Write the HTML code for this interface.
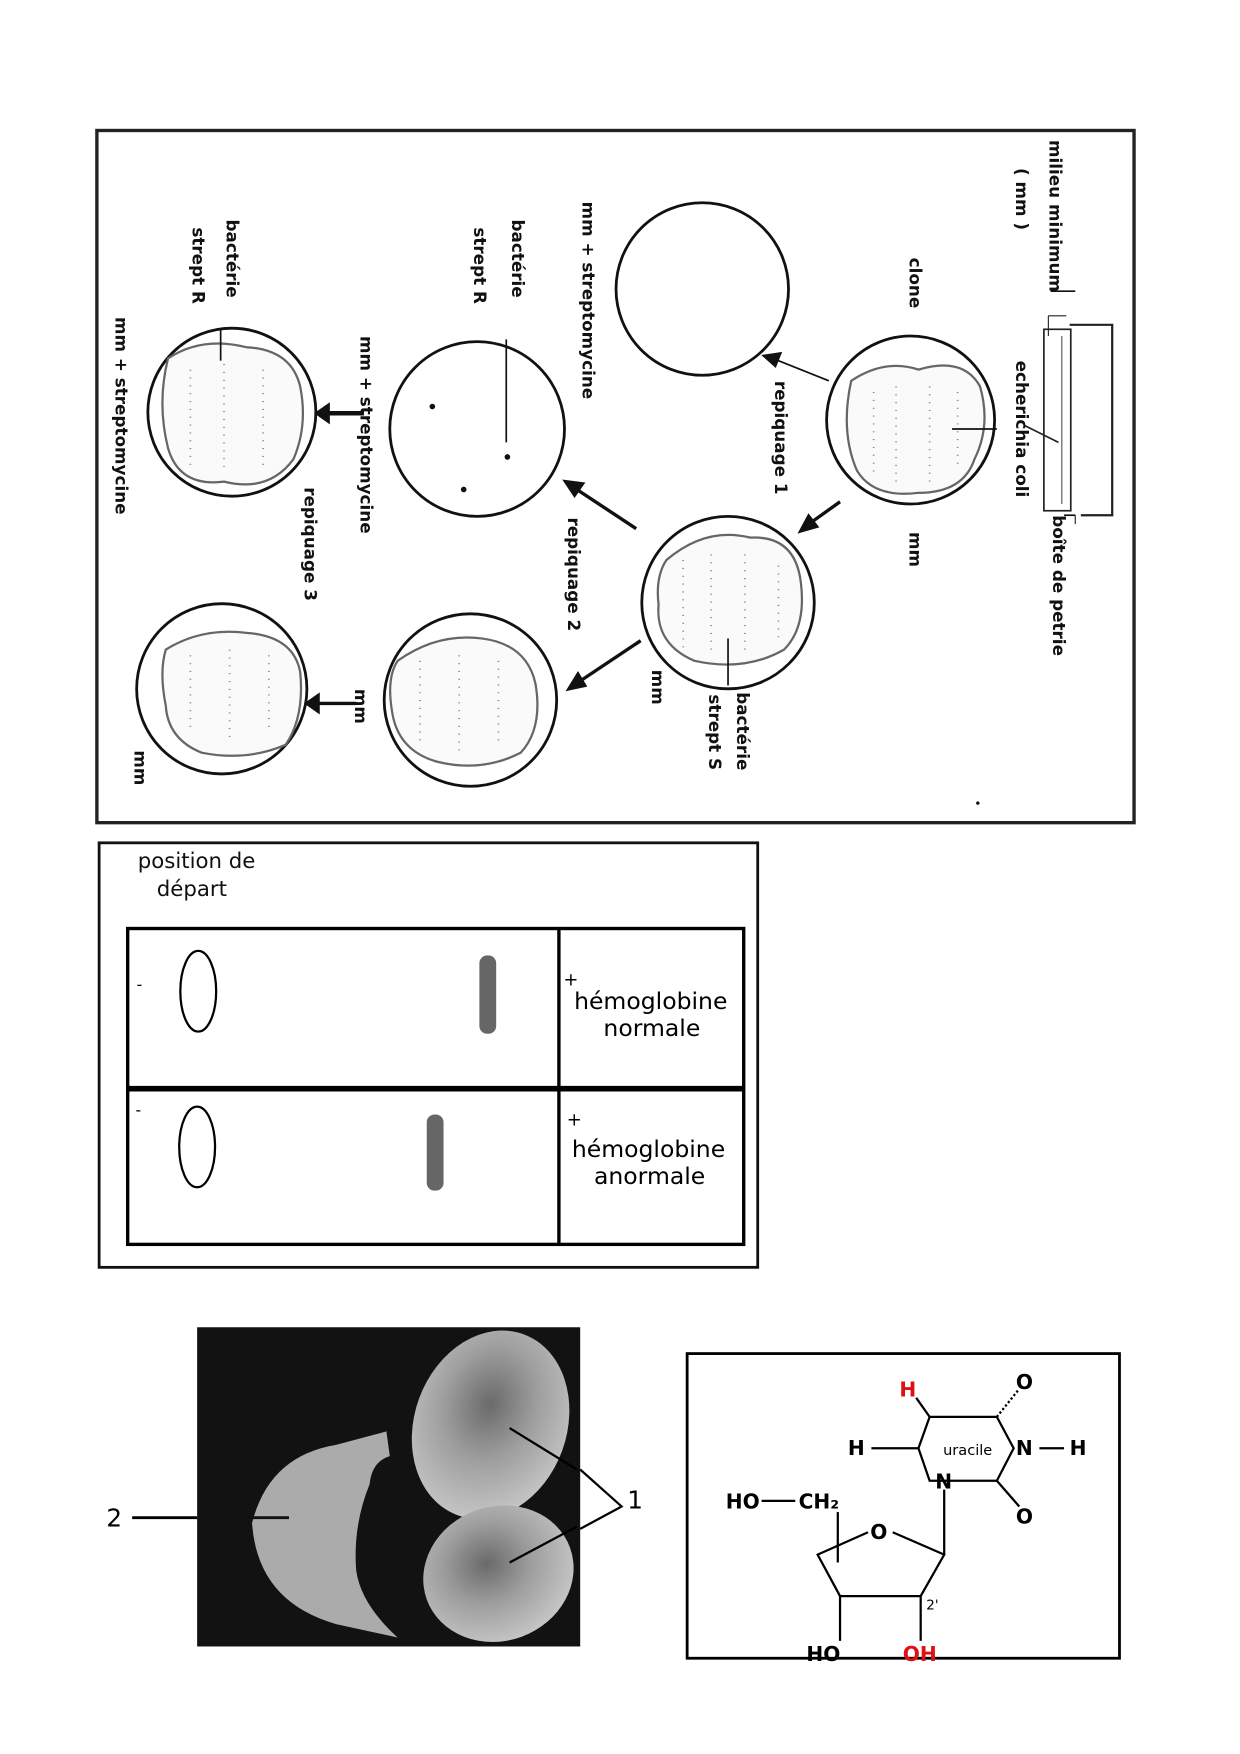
<!DOCTYPE html>
<html><head><meta charset="utf-8"><style>
html,body{margin:0;padding:0;background:#fff;}
svg{display:block;}
text{font-family:"DejaVu Sans","Liberation Sans",sans-serif;}
.b{font-weight:bold;font-size:15px;fill:#111;}
</style></head><body>
<svg width="1240" height="1754" viewBox="0 0 1107 1566" preserveAspectRatio="xMinYMin meet" xmlns="http://www.w3.org/2000/svg">
<defs>
<radialGradient id="cg" cx="0.45" cy="0.4" r="0.6"><stop offset="0" stop-color="#6a6a6a"/><stop offset="0.5" stop-color="#9e9e9e"/><stop offset="1" stop-color="#c4c4c4"/></radialGradient>
</defs>
<rect width="1107" height="1566" fill="#fff"/>
<!-- Frame 1 -->
<rect x="86.5" y="116.5" width="926" height="618" fill="none" stroke="#222" stroke-width="3"/>
<!-- petri dish -->
<polyline points="955,290 993,290 993,460 965,460" fill="none" stroke="#222" stroke-width="2"/>
<rect x="932" y="294" width="24" height="162" fill="none" stroke="#222" stroke-width="1.5"/>
<line x1="948" y1="300" x2="948" y2="450" stroke="#555" stroke-width="1"/>
<line x1="952" y1="282" x2="936" y2="282" stroke="#222"/><line x1="936" y1="282" x2="936" y2="300" stroke="#222"/>
<line x1="960" y1="460" x2="960" y2="468" stroke="#222"/>
<line x1="915" y1="380" x2="945" y2="395" stroke="#222" stroke-width="1.5"/>
<!-- circles -->
<g fill="none" stroke="#111" stroke-width="2.5">
<circle cx="627" cy="258" r="77"/>
<circle cx="813" cy="375" r="75"/>
<circle cx="650" cy="538" r="77"/>
<circle cx="426" cy="383" r="78"/>
<circle cx="207" cy="368" r="75"/>
<circle cx="420" cy="625" r="77"/>
<circle cx="198" cy="615" r="76"/>
</g>
<!-- colonies -->
<g fill="#fafafa" stroke="#666" stroke-width="2">
<path d="M760,340 Q790,320 820,330 Q860,318 875,345 Q885,380 870,410 Q860,440 820,440 Q780,445 765,420 Q750,385 760,340Z"/>
<path d="M595,500 Q630,470 670,480 Q710,478 715,520 Q720,560 700,580 Q665,600 620,590 Q585,575 588,540 Q585,515 595,500Z"/>
<path d="M150,320 Q180,300 220,310 Q260,312 268,345 Q275,380 262,410 Q240,440 200,430 Q160,435 150,400 Q140,360 150,320Z"/>
<path d="M355,590 Q390,565 430,570 Q470,575 478,610 Q485,650 465,672 Q430,690 390,680 Q355,670 350,635 Q345,605 355,590Z"/>
<path d="M148,580 Q180,560 220,565 Q262,568 268,600 Q272,640 255,665 Q220,680 180,672 Q150,660 148,630 Q142,600 148,580Z"/>
</g>
<g stroke="#888" stroke-width="1.5" stroke-dasharray="1 6">
<line x1="780" y1="350" x2="780" y2="425"/><line x1="800" y1="345" x2="800" y2="430"/><line x1="830" y1="345" x2="830" y2="430"/><line x1="855" y1="350" x2="855" y2="420"/>
<line x1="610" y1="500" x2="610" y2="580"/><line x1="635" y1="495" x2="635" y2="585"/><line x1="665" y1="495" x2="665" y2="585"/><line x1="695" y1="505" x2="695" y2="570"/>
<line x1="170" y1="330" x2="170" y2="415"/><line x1="200" y1="325" x2="200" y2="420"/><line x1="235" y1="330" x2="235" y2="415"/>
<line x1="375" y1="590" x2="375" y2="665"/><line x1="410" y1="585" x2="410" y2="670"/><line x1="445" y1="590" x2="445" y2="665"/>
<line x1="170" y1="585" x2="170" y2="655"/><line x1="205" y1="580" x2="205" y2="660"/><line x1="240" y1="585" x2="240" y2="655"/>
</g>
<g fill="#111"><circle cx="386" cy="363" r="2.5"/><circle cx="453" cy="408" r="2.5"/><circle cx="414" cy="437" r="2.5"/></g>
<!-- arrows -->
<g stroke="#111" stroke-width="3" fill="#111">
<line x1="740" y1="340" x2="690" y2="320" stroke-width="1.5"/><polygon points="683,318 696,316 692,326"/>
<line x1="750" y1="448" x2="722" y2="468"/><polygon points="715,474 722,461 729,470"/>
<line x1="568" y1="472" x2="512" y2="435"/><polygon points="505,430 520,432 513,442"/>
<line x1="572" y1="572" x2="515" y2="610"/><polygon points="508,615 516,602 522,612"/>
<line x1="325" y1="369" x2="290" y2="369" stroke-width="4"/><polygon points="283,369 293,362 293,376"/>
<line x1="318" y1="628" x2="280" y2="628" stroke-width="3"/><polygon points="274,628 284,621 284,635"/>
</g>
<g stroke="#111" stroke-width="1.5">
<line x1="890" y1="383" x2="850" y2="383"/>
<line x1="452" y1="303" x2="452" y2="395"/>
<line x1="197" y1="295" x2="197" y2="322"/>
<line x1="650" y1="612" x2="650" y2="570"/>
<line x1="960" y1="260" x2="938" y2="260"/>
<line x1="960" y1="460" x2="950" y2="460"/>
</g>
<!-- rotated labels -->
<g class="b">
<text class="b" transform="translate(937,125) rotate(90)">milieu minimum</text>
<text class="b" transform="translate(907,150) rotate(90)">( mm )</text>
<text class="b" transform="translate(812,230) rotate(90)">clone</text>
<text class="b" transform="translate(907,322) rotate(90)">echerichia coli</text>
<text class="b" transform="translate(940,460) rotate(90)">boîte de petrie</text>
<text class="b" transform="translate(812,475) rotate(90)">mm</text>
<text class="b" transform="translate(692,340) rotate(90)">repiquage 1</text>
<text class="b" transform="translate(520,180) rotate(90)">mm + streptomycine</text>
<text class="b" transform="translate(457,196) rotate(90)">bactérie</text>
<text class="b" transform="translate(423,203) rotate(90)">strept R</text>
<text class="b" transform="translate(322,300) rotate(90)">mm + streptomycine</text>
<text class="b" transform="translate(507,462) rotate(90)">repiquage 2</text>
<text class="b" transform="translate(658,618) rotate(90)">bactérie</text>
<text class="b" transform="translate(633,620) rotate(90)">strept S</text>
<text class="b" transform="translate(582,598) rotate(90)">mm</text>
<text class="b" transform="translate(272,435) rotate(90)">repiquage  3</text>
<text class="b" transform="translate(202,196) rotate(90)">bactérie</text>
<text class="b" transform="translate(172,203) rotate(90)">strept R</text>
<text class="b" transform="translate(103,283) rotate(90)">mm + streptomycine</text>
<text class="b" transform="translate(317,615) rotate(90)">mm</text>
<text class="b" transform="translate(120,670) rotate(90)">mm</text>
</g>
<circle cx="873" cy="717" r="1.5" fill="#111"/>
<!-- Frame 2 -->
<rect x="88.5" y="752.5" width="588" height="379" fill="none" stroke="#111" stroke-width="2.5"/>
<text x="123" y="775" font-size="19" fill="#111">position de</text>
<text x="140" y="800" font-size="19" fill="#111">départ</text>
<rect x="114" y="829" width="550" height="282" fill="none" stroke="#000" stroke-width="3"/>
<line x1="499" y1="829" x2="499" y2="1111" stroke="#000" stroke-width="3"/>
<line x1="114" y1="972" x2="664" y2="972" stroke="#000" stroke-width="5"/>
<ellipse cx="177" cy="885" rx="16" ry="36" fill="none" stroke="#000" stroke-width="2"/>
<ellipse cx="176" cy="1024" rx="16" ry="36" fill="none" stroke="#000" stroke-width="2"/>
<rect x="428" y="853" width="15" height="70" rx="7" fill="#666"/>
<rect x="381" y="995" width="15" height="68" rx="7" fill="#666"/>
<text x="122" y="884" font-size="14">-</text>
<text x="121" y="996" font-size="14">-</text>
<text x="503" y="880" font-size="16">+</text>
<text x="506" y="1005" font-size="16">+</text>
<g font-size="21" text-anchor="middle" fill="#000">
<text x="581" y="901">hémoglobine</text><text x="582" y="925">normale</text>
<text x="579" y="1033">hémoglobine</text><text x="580" y="1057">anormale</text>
</g>
<!-- photo -->
<rect x="176" y="1185" width="342" height="285" fill="#121212"/>
<ellipse cx="438" cy="1272" rx="68" ry="86" transform="rotate(20 438 1272)" fill="url(#cg)"/>
<ellipse cx="445" cy="1405" rx="68" ry="60" transform="rotate(-20 445 1405)" fill="url(#cg)"/>
<path d="M345,1278 L300,1290 Q240,1300 225,1360 Q230,1430 300,1450 L355,1462 Q322,1432 318,1402 Q315,1362 330,1325 Q332,1305 348,1300 Z" fill="#ababab"/>
<g stroke="#000" stroke-width="2.5" fill="none">
<line x1="118" y1="1355" x2="176" y2="1355"/>
<line x1="210" y1="1355" x2="258" y2="1355" stroke="#111"/>
<line x1="455" y1="1275" x2="515" y2="1312" stroke-width="2"/>
<line x1="455" y1="1395" x2="515" y2="1363" stroke-width="2"/>
<polyline points="518,1312 555,1345 518,1365" stroke-width="2"/>
</g>
<text x="95" y="1363" font-size="22">2</text>
<text x="560" y="1347" font-size="22">1</text>
<!-- uracil box -->
<rect x="613.5" y="1208.5" width="386" height="272" fill="none" stroke="#000" stroke-width="2.5"/>
<g stroke="#000" stroke-width="2" fill="none">
<polyline points="820,1293 830,1265 890,1265 905,1293 890,1322 855,1322 830,1322 820,1293"/>
<line x1="818" y1="1248" x2="830" y2="1265"/>
<line x1="890" y1="1265" x2="910" y2="1240" stroke-dasharray="2 2"/>
<line x1="890" y1="1322" x2="910" y2="1345"/>
<line x1="778" y1="1293" x2="820" y2="1293"/>
<line x1="928" y1="1293" x2="950" y2="1293"/>
<line x1="843" y1="1330" x2="843" y2="1388"/>
<polyline points="775,1368 730,1388 750,1425 822,1425 843,1388 797,1368"/>
<line x1="748" y1="1350" x2="748" y2="1395"/>
<line x1="750" y1="1425" x2="750" y2="1465"/>
<line x1="822" y1="1425" x2="822" y2="1465"/>
<line x1="680" y1="1340" x2="710" y2="1340"/>
</g>
<g font-family="Liberation Sans, sans-serif" font-weight="bold" font-size="18">
<text x="803" y="1247" fill="#e01010">H</text>
<text x="907" y="1240">O</text>
<text x="757" y="1299">H</text>
<text x="842" y="1299" font-size="13" font-weight="normal">uracile</text>
<text x="907" y="1299">N</text>
<text x="955" y="1299">H</text>
<text x="835" y="1329">N</text>
<text x="907" y="1360">O</text>
<text x="648" y="1347">HO</text>
<text x="713" y="1347">CH₂</text>
<text x="777" y="1374">O</text>
<text x="827" y="1437" font-size="12" font-weight="normal">2'</text>
<text x="720" y="1483">HO</text>
<text x="806" y="1483" fill="#e01010">OH</text>
</g>
</svg>
</body></html>
